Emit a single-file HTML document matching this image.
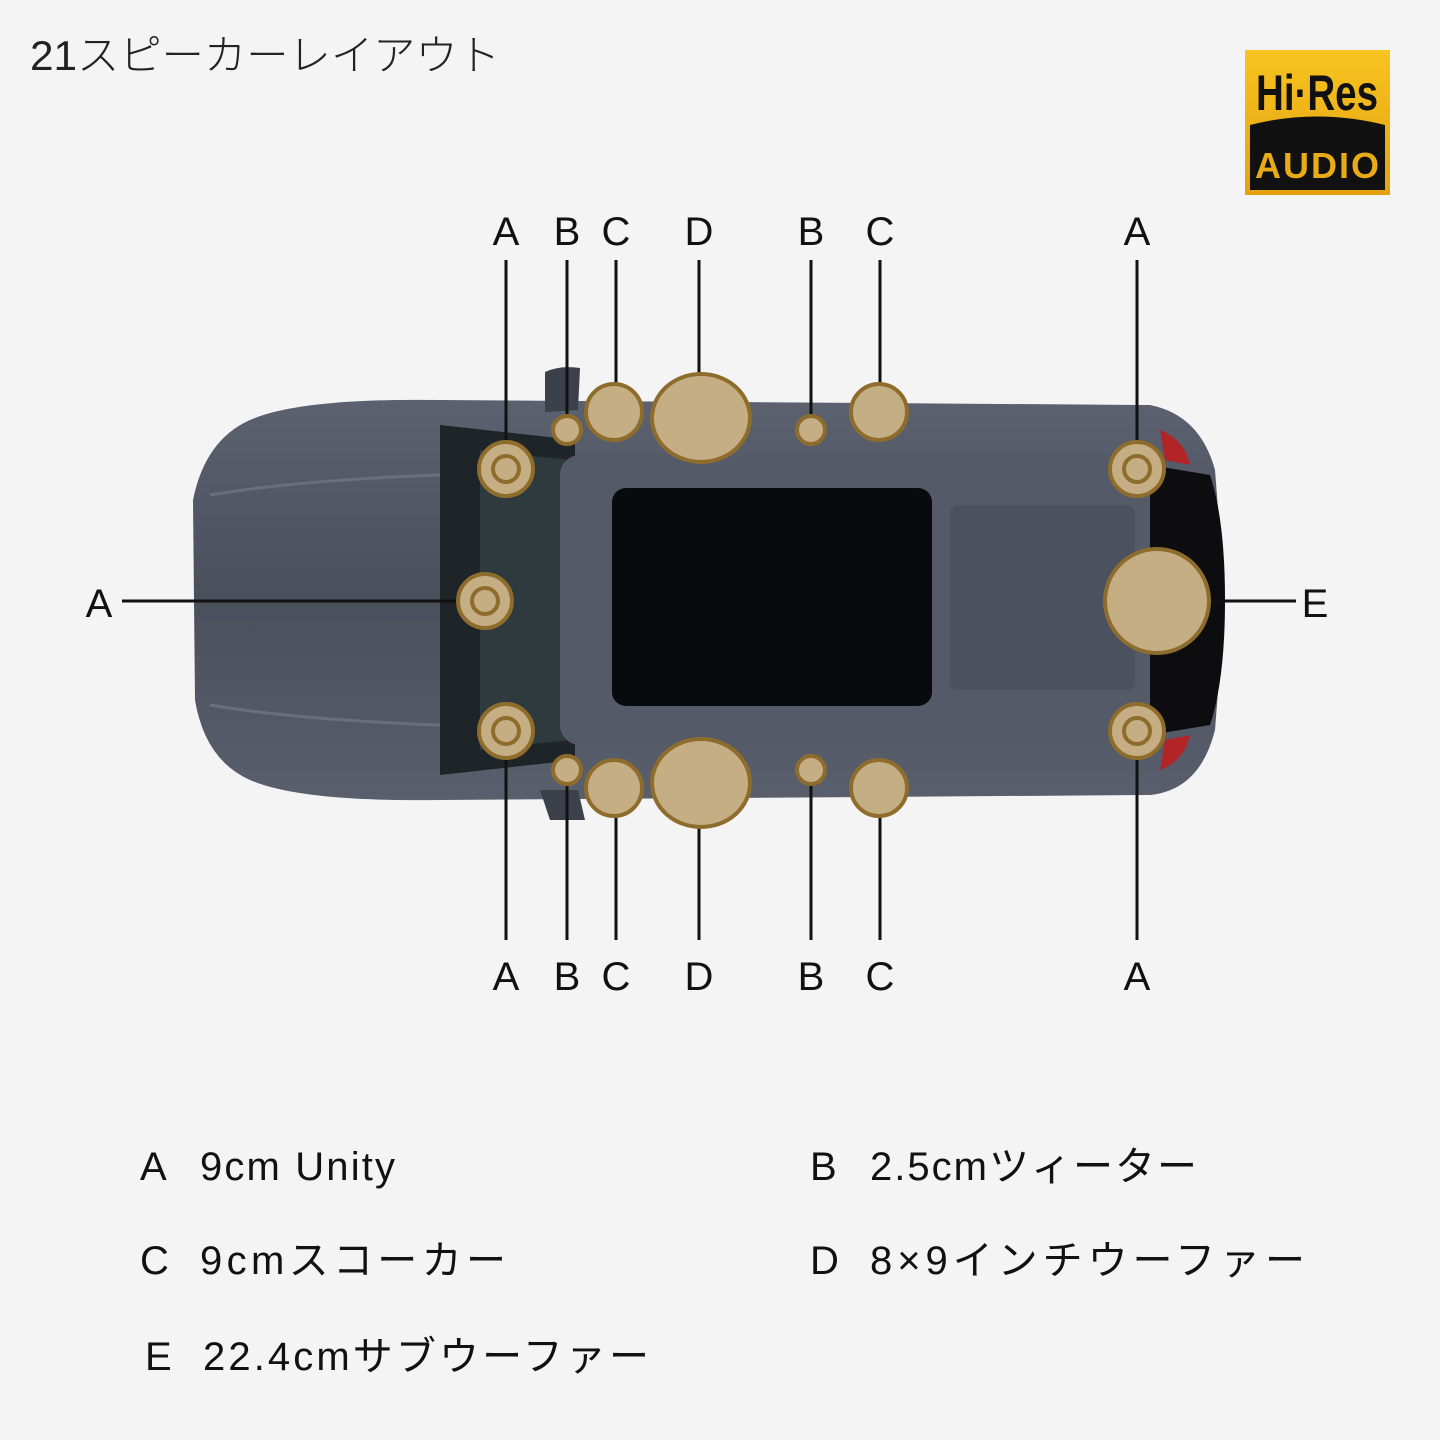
<!DOCTYPE html>
<html><head><meta charset="utf-8"><style>
body{margin:0;width:1440px;height:1440px;background:#f4f4f4;overflow:hidden;font-family:"Liberation Sans","Noto Sans CJK JP",sans-serif;}
svg{position:absolute;left:0;top:0}
</style></head><body>
<svg width="1440" height="1440" viewBox="0 0 1440 1440">
<text x="30" y="70" font-size="42" fill="#222" font-family="Liberation Sans, Noto Sans CJK JP, sans-serif" font-weight="300" textLength="470" lengthAdjust="spacingAndGlyphs">21スピーカーレイアウト</text>
<defs><linearGradient id="g" x1="0" y1="0" x2="0" y2="1"><stop offset="0" stop-color="#f7c420"/><stop offset="1" stop-color="#e4a010"/></linearGradient>
<linearGradient id="car" x1="0" y1="0" x2="0" y2="1"><stop offset="0" stop-color="#5c6170"/><stop offset="0.5" stop-color="#4a4f5c"/><stop offset="1" stop-color="#5a5f6d"/></linearGradient></defs>
<rect x="1245" y="50" width="145" height="145" fill="url(#g)"/>
<path d="M1250 125 Q1317 108 1385 125 L1385 190 L1250 190 Z" fill="#111"/>
<text x="1317" y="110" font-size="50" font-weight="bold" text-anchor="middle" fill="#111" textLength="122" lengthAdjust="spacingAndGlyphs">Hi·Res</text>
<text x="1318" y="178" font-size="36" font-weight="bold" text-anchor="middle" fill="#e9ab15" letter-spacing="2">AUDIO</text>
<path d="M250 420 Q300 398 440 400 L1150 405 Q1200 415 1215 470 L1225 600 L1215 730 Q1200 790 1150 795 L440 800 Q300 802 250 780 Q205 760 195 700 L193 500 Q205 440 250 420 Z" fill="url(#car)"/>
<path d="M440 425 L575 440 L575 760 L440 775 Z" fill="#1f2428"/>
<path d="M480 450 L570 460 L570 740 L480 750 Z" fill="#2e3a3e"/>
<rect x="560" y="455" width="600" height="290" rx="20" fill="#555a69"/>
<rect x="612" y="488" width="320" height="218" rx="14" fill="#090a0d"/>
<rect x="950" y="505" width="185" height="185" rx="8" fill="#4c5160"/>
<path d="M1150 465 L1210 475 Q1225 520 1225 600 Q1225 680 1210 725 L1150 735 Z" fill="#0d0d10"/>
<path d="M1160 430 Q1185 440 1190 465 L1165 460 Z M1160 770 Q1185 760 1190 735 L1165 740 Z" fill="#b22428"/>
<path d="M545 372 Q560 365 580 368 L578 410 L545 412 Z" fill="#3c404b"/>
<path d="M540 790 L578 790 L585 820 L550 820 Z" fill="#3c404b"/>
<path d="M210 495 Q300 480 440 475 M210 705 Q300 720 440 725" stroke="#6a6f7d" stroke-width="3" fill="none"/>
<g stroke="#111" stroke-width="3">
<line x1="506" y1="260" x2="506" y2="442"/><line x1="567" y1="260" x2="567" y2="416"/><line x1="616" y1="260" x2="616" y2="384"/><line x1="699" y1="260" x2="699" y2="374"/><line x1="811" y1="260" x2="811" y2="416"/><line x1="880" y1="260" x2="880" y2="384"/><line x1="1137" y1="260" x2="1137" y2="442"/>
<line x1="506" y1="758" x2="506" y2="940"/><line x1="567" y1="784" x2="567" y2="940"/><line x1="616" y1="816" x2="616" y2="940"/><line x1="699" y1="826" x2="699" y2="940"/><line x1="811" y1="784" x2="811" y2="940"/><line x1="880" y1="816" x2="880" y2="940"/><line x1="1137" y1="758" x2="1137" y2="940"/>
<line x1="122" y1="601" x2="458" y2="601"/><line x1="1210" y1="601" x2="1296" y2="601"/>
</g>
<g fill="#c5ad84" stroke="#8e6d2c" stroke-width="4">
<circle cx="506" cy="469" r="27"/><circle cx="485" cy="601" r="27"/><circle cx="506" cy="731" r="27"/><circle cx="1137" cy="469" r="27"/><circle cx="1137" cy="731" r="27"/>
<circle cx="506" cy="469" r="13"/><circle cx="485" cy="601" r="13"/><circle cx="506" cy="731" r="13"/><circle cx="1137" cy="469" r="13"/><circle cx="1137" cy="731" r="13"/>
<circle cx="567" cy="430" r="14"/><circle cx="811" cy="430" r="14"/><circle cx="567" cy="770" r="14"/><circle cx="811" cy="770" r="14"/>
<circle cx="614" cy="412" r="28"/><circle cx="879" cy="412" r="28"/><circle cx="614" cy="788" r="28"/><circle cx="879" cy="788" r="28"/>
<ellipse cx="701" cy="418" rx="49" ry="44"/><ellipse cx="701" cy="783" rx="49" ry="44"/>
<circle cx="1157" cy="601" r="52"/>
</g>
<g font-size="40" fill="#111" text-anchor="middle">
<text x="506" y="245">A</text><text x="567" y="245">B</text><text x="616" y="245">C</text><text x="699" y="245">D</text><text x="811" y="245">B</text><text x="880" y="245">C</text><text x="1137" y="245">A</text>
<text x="506" y="990">A</text><text x="567" y="990">B</text><text x="616" y="990">C</text><text x="699" y="990">D</text><text x="811" y="990">B</text><text x="880" y="990">C</text><text x="1137" y="990">A</text>
<text x="99" y="617">A</text><text x="1315" y="617">E</text>
</g>
<g font-size="40" fill="#111" font-family="Liberation Sans, Noto Sans CJK JP, sans-serif">
<text x="140" y="1180">A</text><text x="200" y="1180" textLength="195" lengthAdjust="spacing">9cm Unity</text>
<text x="810" y="1180">B</text><text x="870" y="1180" textLength="327" lengthAdjust="spacing">2.5cmツィーター</text>
<text x="140" y="1274">C</text><text x="200" y="1274" textLength="306" lengthAdjust="spacing">9cmスコーカー</text>
<text x="810" y="1274">D</text><text x="870" y="1274" textLength="435" lengthAdjust="spacing">8×9インチウーファー</text>
<text x="145" y="1370">E</text><text x="203" y="1370" textLength="446" lengthAdjust="spacing">22.4cmサブウーファー</text>
</g>
</svg>
</body></html>
